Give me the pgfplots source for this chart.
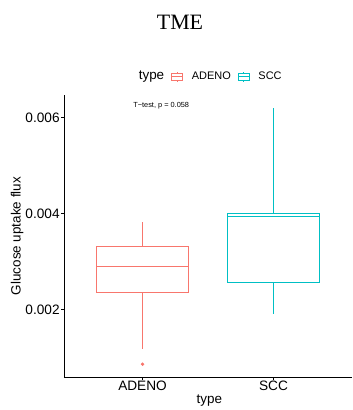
\documentclass[border=0pt]{standalone}
\usepackage{fontspec}
\setmainfont{Liberation Sans}
\newfontfamily\serifttl{Liberation Serif}
\usepackage{pgfplots}
\pgfplotsset{compat=1.18}
\usepgfplotslibrary{statistics}
\definecolor{adeno}{HTML}{F8766D}
\definecolor{scc}{HTML}{00BFC4}
\begin{document}
\begin{tikzpicture}
\useasboundingbox (0bp,0bp) rectangle (353bp,410bp);
\node[font=\serifttl\fontsize{22}{24}\selectfont] at (180bp,387.5bp) {TME};
\node[font=\fontsize{13.5}{15}\selectfont] at (151.5bp,333.3bp) {type};
\begin{axis}[
  at={(64bp,33bp)}, anchor=south west,
  scale only axis, width=288bp, height=282bp,
  xmin=0.4, xmax=2.6, ymin=0.000593, ymax=0.006475,
  axis x line*=bottom, axis y line*=left,
  axis line style={-, black, line width=0.8bp},
  tick align=outside, xtick pos=bottom, ytick pos=left,
  major tick length=2.7bp,
  tick style={black, line width=0.6bp},
  xtick={1,2}, xticklabels={ADENO,SCC},
  ytick={0.002,0.004,0.006},
  scaled y ticks=false,
  /pgf/number format/assume math mode=true,
  yticklabel style={/pgf/number format/fixed, /pgf/number format/fixed zerofill, /pgf/number format/precision=3, inner sep=1.5bp},
  xticklabel style={inner sep=1.5bp},
  tick label style={font=\fontsize{13.7}{15}\selectfont, black},
  xlabel={type}, ylabel={Glucose uptake flux},
  label style={font=\fontsize{13.5}{15}\selectfont},
  xlabel style={at={(axis description cs:0.505,-0.085)}, anchor=center},
  ylabel style={at={(axis description cs:-0.163,0.5)}, anchor=center},
  boxplot/draw direction=y,
  boxplot/whisker extend=0, boxplot/box extend=0.7,
  legend style={draw=none, fill=none, at={(0.564,1.065)}, anchor=center,
    font=\fontsize{11}{12}\selectfont, nodes={inner sep=0pt},
    /tikz/every even column/.append style={column sep=7bp},
    /tikz/every odd column/.append style={column sep=9bp}},
  legend columns=-1,
  clip=false,
]
\addplot[adeno, line width=0.6bp, forget plot,
  boxplot prepared={lower whisker=0.001167, lower quartile=0.00236, median=0.002896,
    upper quartile=0.003327, upper whisker=0.003827, draw position=1,
    every median/.style={line width=1bp}},
  mark=*, mark size=1.4bp, mark options={fill=adeno, draw=adeno}]
  coordinates {(1,0.00086)};
\addplot[scc, line width=0.6bp, forget plot,
  boxplot prepared={lower whisker=0.001917, lower quartile=0.002563, median=0.003938,
    upper quartile=0.004006, upper whisker=0.006208, draw position=2,
    every median/.style={line width=1bp}}]
  coordinates {};
\node[font=\fontsize{7.4}{8}\selectfont] at (rel axis cs:0.3375,0.962) {T\textminus test, p = 0.058};
\addlegendimage{adeno, line width=0.6bp, legend image code/.code={
  \draw[adeno, line width=0.6bp] (0bp,-3.5bp) rectangle (11bp,3.5bp);
  \draw[adeno, line width=0.6bp] (0bp,0bp) -- (11bp,0bp);
  \draw[adeno, line width=0.6bp] (5.5bp,3.5bp) -- (5.5bp,5bp);
  \draw[adeno, line width=0.6bp] (5.5bp,-3.5bp) -- (5.5bp,-5bp);}}
\addlegendentry{ADENO}
\addlegendimage{scc, line width=0.6bp, legend image code/.code={
  \draw[scc, line width=0.6bp] (0bp,-3.5bp) rectangle (11bp,3.5bp);
  \draw[scc, line width=0.6bp] (0bp,0bp) -- (11bp,0bp);
  \draw[scc, line width=0.6bp] (5.5bp,3.5bp) -- (5.5bp,5bp);
  \draw[scc, line width=0.6bp] (5.5bp,-3.5bp) -- (5.5bp,-5bp);}}
\addlegendentry{SCC}
\end{axis}
\end{tikzpicture}
\end{document}
